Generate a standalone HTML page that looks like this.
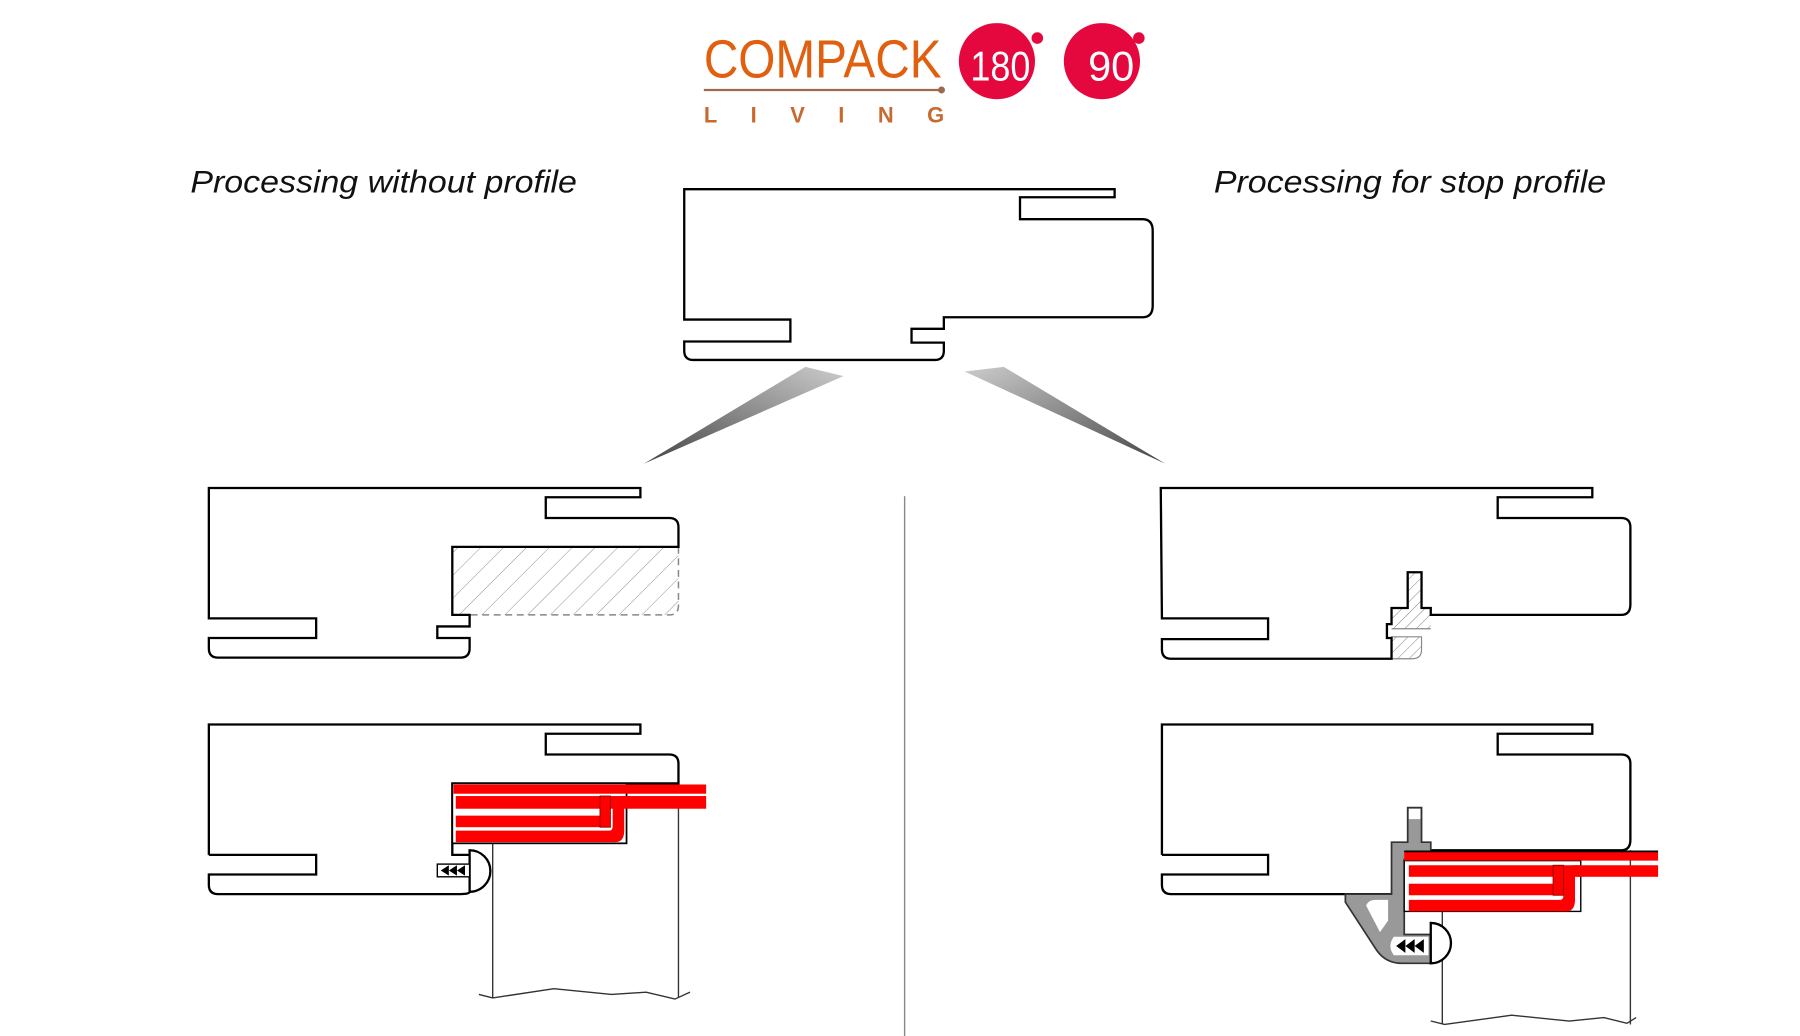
<!DOCTYPE html>
<html><head><meta charset="utf-8"><style>
html,body{margin:0;padding:0;background:#fff;}
svg{display:block;}
</style></head><body>
<svg width="1800" height="1036" viewBox="0 0 1560 898" preserveAspectRatio="none" xmlns="http://www.w3.org/2000/svg">
<defs>
<pattern id="h" width="7" height="7" patternUnits="userSpaceOnUse" patternTransform="rotate(45)">
<line x1="0" y1="0" x2="0" y2="7" stroke="#777" stroke-width="0.8"/></pattern>
<pattern id="h2" width="14" height="14" patternUnits="userSpaceOnUse" patternTransform="rotate(45)">
<line x1="0" y1="0" x2="0" y2="14" stroke="#888" stroke-width="0.8"/></pattern>
<linearGradient id="g1" x1="0" y1="1" x2="1" y2="0"><stop offset="0" stop-color="#444"/><stop offset="1" stop-color="#ccc"/></linearGradient>
<linearGradient id="g2" x1="1" y1="1" x2="0" y2="0"><stop offset="0" stop-color="#444"/><stop offset="1" stop-color="#ccc"/></linearGradient>
</defs>
<g font-family="Liberation Sans, sans-serif">
<text x="610" y="67" font-size="47" fill="#e0600f" textLength="206" lengthAdjust="spacingAndGlyphs">COMPACK</text>
<line x1="610" y1="78" x2="814" y2="78" stroke="#9b6a4c" stroke-width="2"/>
<circle cx="816" cy="78" r="3" fill="#9b6a4c"/>
<text x="610" y="106" font-size="19" font-weight="bold" fill="#c86a30" letter-spacing="29">LIVING</text>
<circle cx="864" cy="53" r="33" fill="#e4083e"/><circle cx="899" cy="33" r="5" fill="#e4083e"/>
<text x="841" y="70" font-size="36" fill="#fff" textLength="52" lengthAdjust="spacingAndGlyphs">180</text>
<circle cx="955" cy="53" r="33" fill="#e4083e"/><circle cx="987" cy="33" r="5" fill="#e4083e"/>
<text x="943" y="70" font-size="36" fill="#fff">90</text>
<text x="165" y="167" font-size="27" font-style="italic" fill="#111" textLength="335" lengthAdjust="spacingAndGlyphs">Processing without profile</text>
<text x="1052" y="167" font-size="27" font-style="italic" fill="#111" textLength="340" lengthAdjust="spacingAndGlyphs">Processing for stop profile</text>
</g>
<path d="M593,164 H966 V171 H884 V190 H990 Q999,190 999,200 V265 Q999,275 990,275 H818 V285 H790 V297 H818 V304 Q818,312 810,312 H601 Q593,312 593,304 V296 H685 V277 H593 Z" fill="#fff" stroke="#000" stroke-width="2"/>
<polygon points="558,402 698,318 731,326" fill="url(#g1)"/>
<polygon points="836,322 870,318 1010,402" fill="url(#g2)"/>
<line x1="784" y1="430" x2="784" y2="900" stroke="#888" stroke-width="1.2"/>
<!-- left middle -->
<rect x="392" y="474" width="196" height="59" fill="url(#h2)"/>
<path d="M588,474 V525 Q588,533 580,533 H407" fill="none" stroke="#888" stroke-width="1.3" stroke-dasharray="6,4"/>
<path d="M181,423 H555 V431 H473 V449 H580 Q588,449 588,457 V474 H392 V533 H407 V543 H379 V553 H407 V562 Q407,570 399,570 H189 Q181,570 181,562 V553 H274 V536 H181 Z" fill="none" stroke="#000" stroke-width="2"/>
<!-- left bottom -->
<g stroke="#333" stroke-width="1.2" fill="none">
<line x1="427" y1="731" x2="427" y2="865"/><line x1="588" y1="700" x2="588" y2="865"/>
<polyline points="415,862 427,865 480,857 530,862 560,860 585,866 598,860"/>
</g>
<path d="M181,741 V628 H555 V636 H473 V654 H580 Q588,654 588,662 V679 H392 V741 H407" fill="none" stroke="#000" stroke-width="2"/>
<path d="M407,773 Q407,775 399,775 H189 Q181,775 181,767 V758 H274 V741 H181" fill="none" stroke="#000" stroke-width="2"/>
<rect x="392" y="679" width="151" height="52" fill="#fff" stroke="#000" stroke-width="1.5"/>
<g fill="#f00">
<rect x="393" y="680" width="219" height="8"/>
<rect x="395" y="690" width="217" height="11"/>
<rect x="395" y="707" width="130" height="10"/>
<path d="M395,720 H528 Q531,720 531,716 V698 Q531,690 540,690 H546 V700 H541 V720 Q541,730 533,730 H395 Z"/>
<rect x="520" y="690" width="9" height="27" stroke="#900" stroke-width="0.8"/>
</g>
<path d="M407,737 A18,18 0 0 1 407,773 Z" fill="#fff" stroke="#000" stroke-width="2"/>
<rect x="379" y="749" width="28" height="11" fill="#fff" stroke="#000" stroke-width="1.2"/>
<g fill="#000"><polygon points="382,754.5 389,750 389,759"/><polygon points="389,754.5 396,750 396,759"/><polygon points="396,754.5 403,750 403,759"/></g>
<!-- right middle -->
<rect x="1220" y="496" width="12" height="31" fill="url(#h)"/>
<rect x="1206" y="527" width="34" height="18" fill="url(#h)"/>
<path d="M1206,552 H1232 V563 Q1232,571 1224,571 H1206 Z" fill="url(#h)" stroke="#888" stroke-width="1"/>
<path d="M1006,423 H1380 V431 H1298 V449 H1405 Q1413,449 1413,457 V524 Q1413,533 1405,533 H1240 V527 H1232 V496 H1220 V527 H1206 V541 H1202 V553 H1206 V571 H1015 Q1007,571 1007,563 V554 H1099 V536 H1007 Z" fill="none" stroke="#000" stroke-width="2"/>
<line x1="1206" y1="545" x2="1240" y2="545" stroke="#888" stroke-width="1"/>
<!-- right bottom -->
<g stroke="#333" stroke-width="1.2" fill="none">
<line x1="1250" y1="790" x2="1250" y2="888"/><line x1="1413" y1="737" x2="1413" y2="888"/>
<polyline points="1240,885 1252,888 1310,880 1360,885 1390,882 1410,887 1418,882"/>
</g>
<path d="M1007,741 V628 H1380 V636 H1298 V654 H1405 Q1413,654 1413,662 V728 Q1413,737 1405,737 H1240" fill="none" stroke="#000" stroke-width="2"/>
<path d="M1206,775 H1015 Q1007,775 1007,767 V758 H1099 V741 H1007" fill="none" stroke="#000" stroke-width="2"/>
<path d="M1220,700 H1232 V730 H1240 V745 H1217 V810 H1240 V835 H1215 Q1200,835 1192,822 L1166,782 V775 H1206 V730 H1220 Z" fill="#999" stroke="#333" stroke-width="1.5"/>
<rect x="1221" y="701" width="10" height="9" fill="#fff"/>
<path d="M1184,785 Q1186,780 1192,780 H1203 V798 L1196,808 Z" fill="#fff"/>
<path d="M1208,812 H1238 V828 H1208 Q1202,820 1208,812 Z" fill="#fff"/>
<g fill="#000"><polygon points="1210,820 1218,814 1218,826"/><polygon points="1218,820 1226,814 1226,826"/><polygon points="1226,820 1234,814 1234,826"/></g>
<path d="M1240,800 A17,17 0 0 1 1240,835 Z" fill="#fff" stroke="#000" stroke-width="2"/>
<rect x="1217" y="746" width="153" height="44" fill="#fff" stroke="#000" stroke-width="1.2"/>
<g fill="#f00">
<rect x="1217" y="738" width="220" height="8"/>
<rect x="1221" y="750" width="216" height="10"/>
<rect x="1221" y="766" width="134" height="10"/>
<path d="M1221,780 H1352 Q1355,780 1355,776 V758 Q1355,750 1364,750 H1370 V760 H1365 V780 Q1365,790 1357,790 H1221 Z"/>
<rect x="1346" y="750" width="9" height="26" stroke="#900" stroke-width="0.8"/>
</g>
<line x1="1217" y1="738" x2="1437" y2="738" stroke="#000" stroke-width="1.5"/>
</svg>
</body></html>
